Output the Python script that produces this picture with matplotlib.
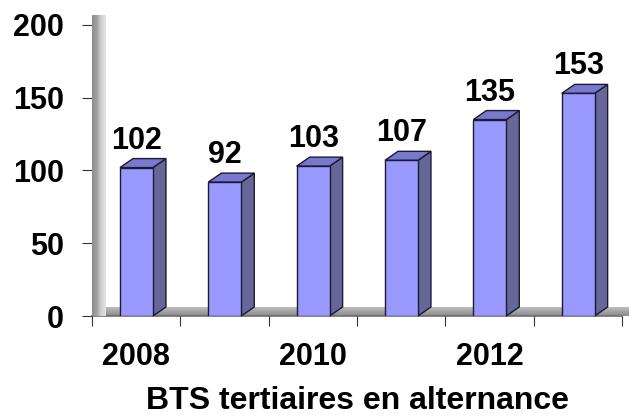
import matplotlib
matplotlib.use("Agg")
import matplotlib.pyplot as plt
import numpy as np
from matplotlib.patches import Polygon

years = ["2008", "2009", "2010", "2011", "2012", "2013"]
values = [102, 92, 103, 107, 135, 153]
tick_labels = ["2008", "", "2010", "", "2012", ""]
yticks = [0, 50, 100, 150, 200]
title = "BTS tertiaires en alternance"

plt.rcParams['font.family'] = ['Liberation Sans', 'DejaVu Sans']
FS = 22

fig = plt.figure(figsize=(6.29, 4.18), dpi=100)
ax = fig.add_axes([92/629, (418-316)/418, 530/629, 291/418])
ax.set_xlim(0, len(values))
ax.set_ylim(0, 200)

# depth offsets (3D look)
ddx = 13/88.3
ddy = 9/1.455

# floor with gradient (lighter at back, darker at front)
floor = Polygon([(0, 0), (6, 0), (6+ddx, ddy), (ddx, ddy)], closed=True,
                facecolor="none", edgecolor="none", clip_on=False, zorder=1)
ax.add_patch(floor)
fgrad = np.linspace(0, 1, 32).reshape(-1, 1)
fim = ax.imshow(fgrad, cmap=matplotlib.colors.LinearSegmentedColormap.from_list("f", ["#8A8A8A", "#BDBDBD"]),
                extent=(0, 6+ddx, 0, ddy), origin="lower", aspect="auto", zorder=1, clip_on=False)
fim.set_clip_path(floor)
ax.plot([0, 6], [0, 0], color="#6E6E6E", lw=1.2, zorder=1.5, clip_on=False)

# left wall with gradient
wall = Polygon([(0, 0), (0, 200), (ddx, 200+ddy), (ddx, ddy)], closed=True,
               facecolor="none", edgecolor="none", clip_on=False, zorder=2)
ax.add_patch(wall)
grad = np.linspace(0, 1, 64).reshape(1, -1)
im = ax.imshow(grad, cmap=matplotlib.colors.LinearSegmentedColormap.from_list("g", ["#8E8E8E", "#A0A0A0", "#D2D2D2", "#E2E2E2"]),
               extent=(0, ddx, 0, 200+ddy), aspect="auto", zorder=2, clip_on=False)
im.set_clip_path(wall)
ax.set_xlim(0, len(values))
ax.set_ylim(0, 200)

x0off, x1off = 0.317, 0.69
front_c, side_c, top_c, edge_c = "#9999FF", "#666699", "#7878CC", "#1A1A33"
for i, v in enumerate(values):
    x0, x1 = i + x0off, i + x1off
    side = Polygon([(x1, 0), (x1, v), (x1+ddx, v+ddy), (x1+ddx, ddy)], closed=True,
                   facecolor=side_c, edgecolor=edge_c, lw=1.0, zorder=4, clip_on=False)
    top = Polygon([(x0, v), (x1, v), (x1+ddx, v+ddy), (x0+ddx, v+ddy)], closed=True,
                  facecolor=top_c, edgecolor=edge_c, lw=1.0, zorder=4, clip_on=False)
    ax.add_patch(side)
    ax.add_patch(top)
    ax.bar(i + (x0off+x1off)/2, v, width=x1off-x0off, color=front_c, edgecolor=edge_c,
           lw=1.0, zorder=5)
    ax.text((x0+x1)/2, v + ddy + 2, str(v), ha="center", va="bottom", fontsize=FS,
            fontweight="bold", zorder=6)

for s in ["top", "right", "left", "bottom"]:
    ax.spines[s].set_visible(False)

ax.set_yticks(yticks)
ax.set_yticklabels([str(t) for t in yticks], fontsize=FS, fontweight="bold")
ax.tick_params(axis="y", direction="out", length=7, width=0.8, color="#333333", pad=13)

ax.set_xticks(np.arange(0, len(values)+1))
ax.set_xticklabels([])
ax.tick_params(axis="x", which="major", direction="out", length=7, width=0.8, color="#333333")
ax.set_xticks(np.arange(len(values)) + 0.5, minor=True)
ax.set_xticklabels(tick_labels, minor=True, fontsize=FS, fontweight="bold")
ax.tick_params(axis="x", which="minor", length=0, pad=19)

ax.set_xlabel(title, fontsize=23, fontweight="bold", labelpad=10)

fig.savefig("out.png", dpi=100)
